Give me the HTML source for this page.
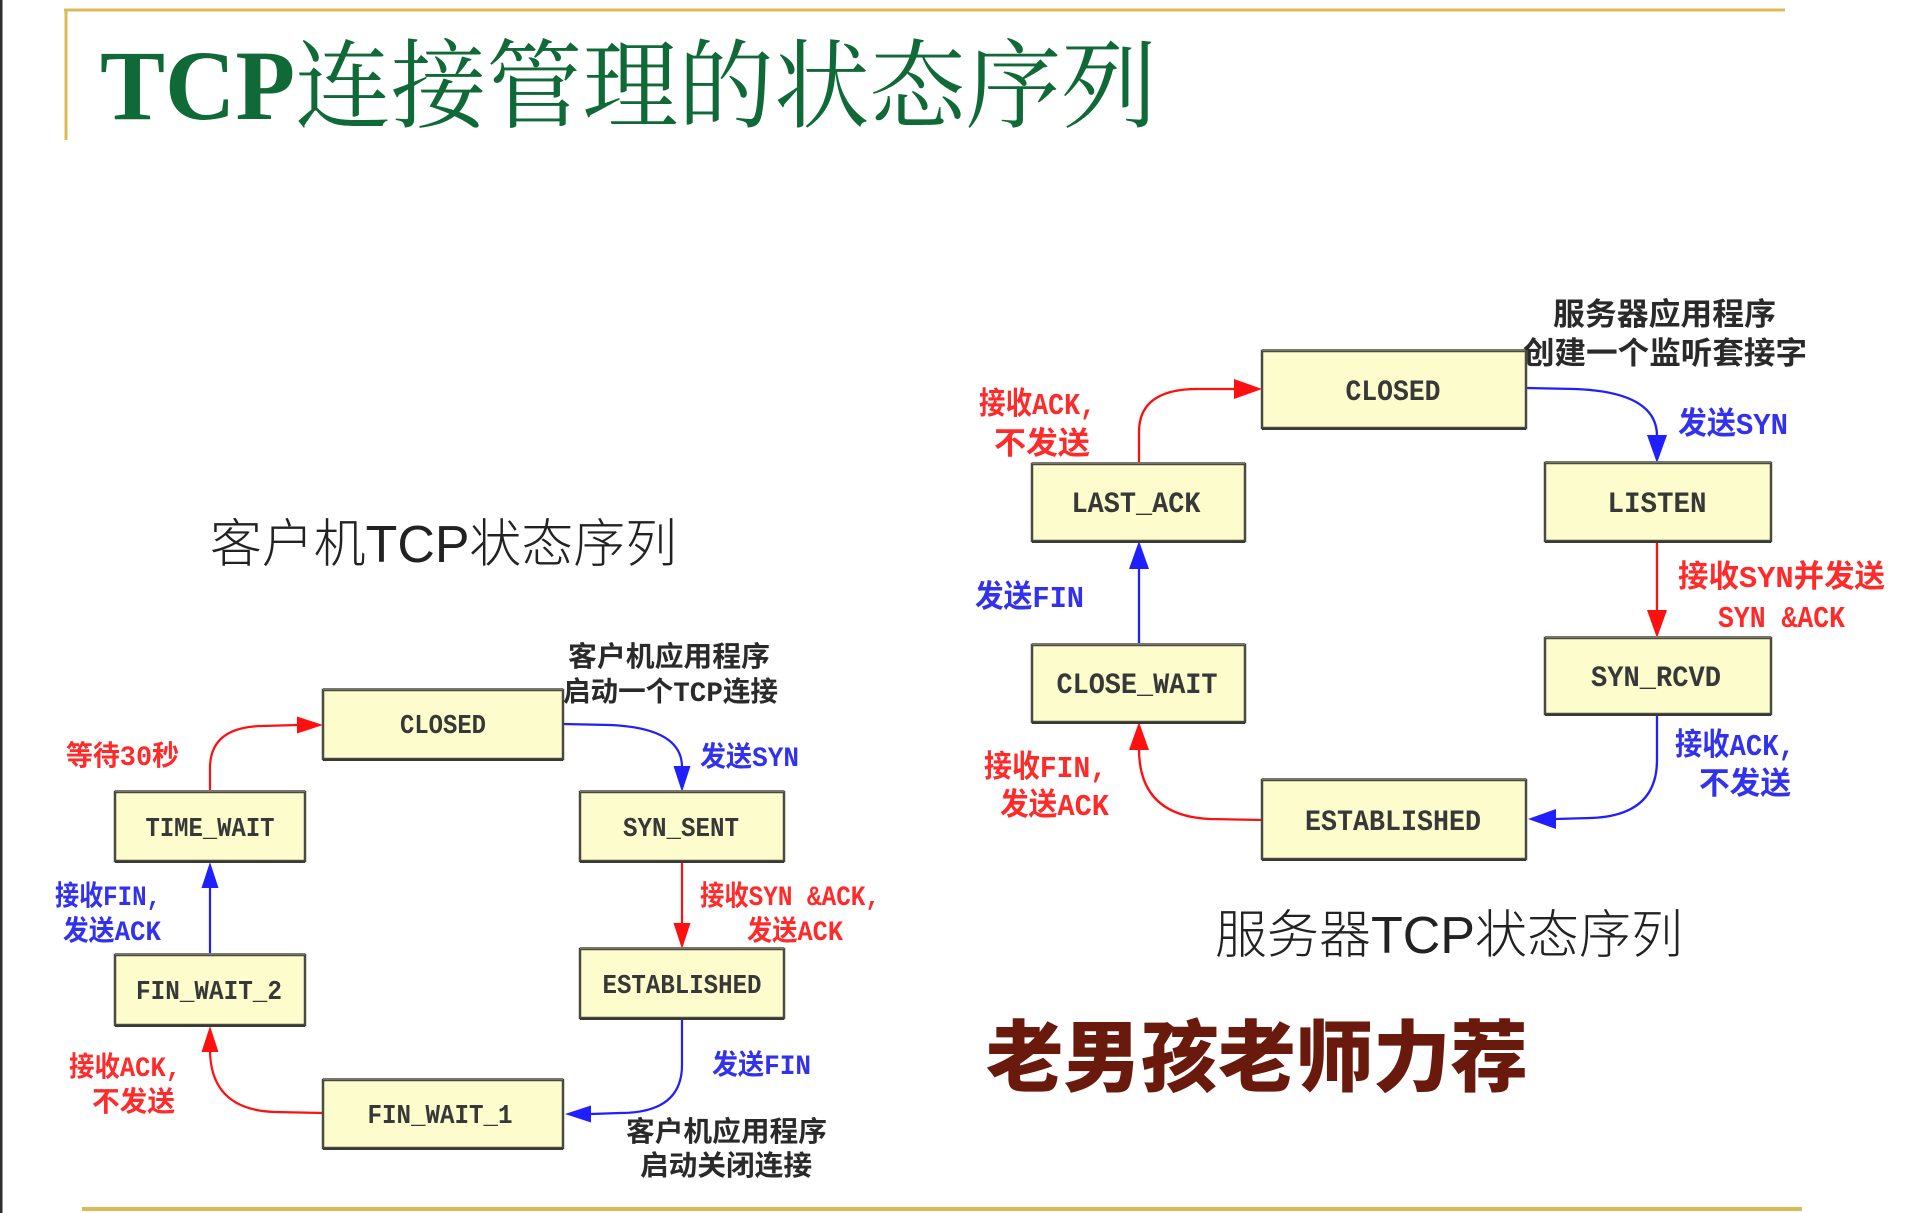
<!DOCTYPE html>
<html>
<head>
<meta charset="utf-8">
<style>
  html, body { margin:0; padding:0; background:#ffffff; }
  body { width:1930px; height:1213px; overflow:hidden; }
  svg { display:block; }
  .box { fill:#fcfccc; stroke:#4a4a42; stroke-width:2.5; }
  .bt { font-family:"Liberation Mono","Noto Sans CJK SC",monospace; font-weight:bold; fill:#383838; text-anchor:middle; }
  .lb { font-family:"Liberation Mono","Noto Sans CJK SC",sans-serif; font-weight:bold; }
  .r { fill:#ff2a2a; }
  .b { fill:#3232ee; }
  .d { fill:#2a2a2a; }
</style>
</head>
<body>
<svg width="1930" height="1213" viewBox="0 0 1930 1213" xmlns="http://www.w3.org/2000/svg">
  <!-- left border -->
  <rect x="0" y="0" width="2.5" height="1213" fill="#2e2e2e"/>

  <!-- gold frame lines -->
  <line x1="64" y1="10" x2="1785" y2="10" stroke="#dcb954" stroke-width="3"/>
  <line x1="66" y1="9" x2="66" y2="140" stroke="#dcb954" stroke-width="3"/>
  <line x1="82" y1="1209" x2="1802" y2="1209" stroke="#dcb954" stroke-width="4"/>

  <!-- title -->
  <text x="100" y="119" font-family="Liberation Serif, serif" font-weight="bold" font-size="100" fill="#0f6a37" textLength="195" lengthAdjust="spacingAndGlyphs">TCP</text>
  <text x="295" y="120" font-family="'Noto Serif CJK SC', 'Liberation Serif', serif" font-size="97" fill="#0f6a37" textLength="862" lengthAdjust="spacingAndGlyphs">连接管理的状态序列</text>

  <!-- subtitles -->
  <text x="210" y="562" font-family="'Liberation Sans','Noto Sans CJK SC',sans-serif" font-weight="300" font-size="52" fill="#222" textLength="467" lengthAdjust="spacingAndGlyphs">客户机TCP状态序列</text>
  <text x="1215" y="953" font-family="'Liberation Sans','Noto Sans CJK SC',sans-serif" font-weight="300" font-size="52" fill="#222" textLength="468" lengthAdjust="spacingAndGlyphs">服务器TCP状态序列</text>
  <text x="986" y="1085" font-family="'Noto Sans CJK SC',sans-serif" font-weight="900" font-size="78" fill="#6a1a0c" textLength="542" lengthAdjust="spacingAndGlyphs">老男孩老师力荐</text>

  <!-- ================= CLIENT ================= -->
  <g fill="none" stroke-width="2.2">
    <path d="M210,792 L210,768 Q210,727 262,726 L298,725" stroke="#ff1010"/>
    <path d="M563,724 L610,725 Q682,728 682,767" stroke="#1f1fff"/>
    <path d="M682,861 L682,924" stroke="#ff1010"/>
    <path d="M682,1018 L682,1065 Q682,1113 620,1113 L591,1114" stroke="#1f1fff"/>
    <path d="M323,1113 L275,1112 Q211,1110 210,1051" stroke="#ff1010"/>
    <path d="M210,955 L210,887" stroke="#1f1fff"/>
  </g>
  <polygon points="323,725 297,716.5 297,733.5" fill="#ff1010"/>
  <polygon points="682,792 673.5,766 690.5,766" fill="#1f1fff"/>
  <polygon points="682,949 673.5,923 690.5,923" fill="#ff1010"/>
  <polygon points="565,1114 591,1105.5 591,1122.5" fill="#1f1fff"/>
  <polygon points="210,1026 201.5,1052 218.5,1052" fill="#ff1010"/>
  <polygon points="210,862 201.5,888 218.5,888" fill="#1f1fff"/>

  <rect class="box" x="323" y="690" width="240" height="69"/>
  <line x1="323" y1="689" x2="563" y2="689" stroke="#77776a" stroke-width="2"/>
  <line x1="323" y1="760" x2="563" y2="760" stroke="#3a3a34" stroke-width="2"/>
  <text class="bt" x="443" y="733" font-size="27" textLength="86" lengthAdjust="spacingAndGlyphs">CLOSED</text>

  <rect class="box" x="580" y="792" width="204" height="69"/>
  <line x1="580" y1="791" x2="784" y2="791" stroke="#77776a" stroke-width="2"/>
  <line x1="580" y1="862" x2="784" y2="862" stroke="#3a3a34" stroke-width="2"/>
  <text class="bt" x="681" y="836" font-size="27" textLength="116" lengthAdjust="spacingAndGlyphs">SYN_SENT</text>

  <rect class="box" x="115" y="792" width="190" height="69"/>
  <line x1="115" y1="791" x2="305" y2="791" stroke="#77776a" stroke-width="2"/>
  <line x1="115" y1="862" x2="305" y2="862" stroke="#3a3a34" stroke-width="2"/>
  <text class="bt" x="210" y="836" font-size="27" textLength="129" lengthAdjust="spacingAndGlyphs">TIME_WAIT</text>

  <rect class="box" x="580" y="949" width="204" height="69"/>
  <line x1="580" y1="948" x2="784" y2="948" stroke="#77776a" stroke-width="2"/>
  <line x1="580" y1="1019" x2="784" y2="1019" stroke="#3a3a34" stroke-width="2"/>
  <text class="bt" x="682" y="993" font-size="27" textLength="159" lengthAdjust="spacingAndGlyphs">ESTABLISHED</text>

  <rect class="box" x="115" y="955" width="190" height="70"/>
  <line x1="115" y1="954" x2="305" y2="954" stroke="#77776a" stroke-width="2"/>
  <line x1="115" y1="1026" x2="305" y2="1026" stroke="#3a3a34" stroke-width="2"/>
  <text class="bt" x="209" y="999" font-size="27" textLength="146" lengthAdjust="spacingAndGlyphs">FIN_WAIT_2</text>

  <rect class="box" x="323" y="1080" width="240" height="68"/>
  <line x1="323" y1="1079" x2="563" y2="1079" stroke="#77776a" stroke-width="2"/>
  <line x1="323" y1="1149" x2="563" y2="1149" stroke="#3a3a34" stroke-width="2"/>
  <text class="bt" x="440" y="1123" font-size="27" textLength="145" lengthAdjust="spacingAndGlyphs">FIN_WAIT_1</text>

  <g class="lb" font-size="28">
    <text class="r" x="66" y="765" textLength="113" lengthAdjust="spacingAndGlyphs">等待30秒</text>
    <text class="b" x="700" y="766" textLength="99" lengthAdjust="spacingAndGlyphs">发送SYN</text>
    <text class="d" x="568" y="666" textLength="202" lengthAdjust="spacingAndGlyphs">客户机应用程序</text>
    <text class="d" x="563" y="701" textLength="215" lengthAdjust="spacingAndGlyphs">启动一个TCP连接</text>
    <text class="r" x="700" y="905" textLength="180" lengthAdjust="spacingAndGlyphs">接收SYN &amp;ACK,</text>
    <text class="r" x="747" y="940" textLength="96" lengthAdjust="spacingAndGlyphs">发送ACK</text>
    <text class="b" x="55" y="905" textLength="106" lengthAdjust="spacingAndGlyphs">接收FIN,</text>
    <text class="b" x="63" y="940" textLength="98" lengthAdjust="spacingAndGlyphs">发送ACK</text>
    <text class="b" x="712" y="1074" textLength="99" lengthAdjust="spacingAndGlyphs">发送FIN</text>
    <text class="d" x="626" y="1141" textLength="201" lengthAdjust="spacingAndGlyphs">客户机应用程序</text>
    <text class="d" x="640" y="1175" textLength="172" lengthAdjust="spacingAndGlyphs">启动关闭连接</text>
    <text class="r" x="69" y="1076" textLength="112" lengthAdjust="spacingAndGlyphs">接收ACK,</text>
    <text class="r" x="92" y="1111" textLength="83" lengthAdjust="spacingAndGlyphs">不发送</text>
  </g>

  <!-- ================= SERVER ================= -->
  <g fill="none" stroke-width="2.3">
    <path d="M1139,464 L1139,432 Q1139,390 1195,389 L1235,389" stroke="#ff1010"/>
    <path d="M1526,388 L1575,389 Q1657,392 1657,436" stroke="#1f1fff"/>
    <path d="M1657,541 L1657,611" stroke="#ff1010"/>
    <path d="M1657,714 L1657,760 Q1657,816 1590,818 L1556,819" stroke="#1f1fff"/>
    <path d="M1262,820 L1210,819 Q1139,816 1139,749" stroke="#ff1010"/>
    <path d="M1139,645 L1139,568" stroke="#1f1fff"/>
  </g>
  <polygon points="1262,389 1234,379 1234,399" fill="#ff1010"/>
  <polygon points="1657,463 1647,435 1667,435" fill="#1f1fff"/>
  <polygon points="1657,638 1647,610 1667,610" fill="#ff1010"/>
  <polygon points="1528,819 1556,809 1556,829" fill="#1f1fff"/>
  <polygon points="1139,722 1129,750 1149,750" fill="#ff1010"/>
  <polygon points="1139,541 1129,569 1149,569" fill="#1f1fff"/>

  <rect class="box" x="1262" y="351" width="264" height="77"/>
  <line x1="1262" y1="350" x2="1526" y2="350" stroke="#77776a" stroke-width="2"/>
  <line x1="1262" y1="429" x2="1526" y2="429" stroke="#3a3a34" stroke-width="2"/>
  <text class="bt" x="1393" y="400" font-size="30" textLength="95" lengthAdjust="spacingAndGlyphs">CLOSED</text>

  <rect class="box" x="1545" y="463" width="226" height="78"/>
  <line x1="1545" y1="462" x2="1771" y2="462" stroke="#77776a" stroke-width="2"/>
  <line x1="1545" y1="542" x2="1771" y2="542" stroke="#3a3a34" stroke-width="2"/>
  <text class="bt" x="1657" y="512" font-size="30" textLength="99" lengthAdjust="spacingAndGlyphs">LISTEN</text>

  <rect class="box" x="1032" y="464" width="213" height="77"/>
  <line x1="1032" y1="463" x2="1245" y2="463" stroke="#77776a" stroke-width="2"/>
  <line x1="1032" y1="542" x2="1245" y2="542" stroke="#3a3a34" stroke-width="2"/>
  <text class="bt" x="1136" y="512" font-size="30" textLength="129" lengthAdjust="spacingAndGlyphs">LAST_ACK</text>

  <rect class="box" x="1032" y="645" width="213" height="77"/>
  <line x1="1032" y1="644" x2="1245" y2="644" stroke="#77776a" stroke-width="2"/>
  <line x1="1032" y1="723" x2="1245" y2="723" stroke="#3a3a34" stroke-width="2"/>
  <text class="bt" x="1137" y="693" font-size="30" textLength="161" lengthAdjust="spacingAndGlyphs">CLOSE_WAIT</text>

  <rect class="box" x="1545" y="638" width="226" height="76"/>
  <line x1="1545" y1="637" x2="1771" y2="637" stroke="#77776a" stroke-width="2"/>
  <line x1="1545" y1="715" x2="1771" y2="715" stroke="#3a3a34" stroke-width="2"/>
  <text class="bt" x="1656" y="686" font-size="30" textLength="130" lengthAdjust="spacingAndGlyphs">SYN_RCVD</text>

  <rect class="box" x="1262" y="780" width="264" height="79"/>
  <line x1="1262" y1="779" x2="1526" y2="779" stroke="#77776a" stroke-width="2"/>
  <line x1="1262" y1="860" x2="1526" y2="860" stroke="#3a3a34" stroke-width="2"/>
  <text class="bt" x="1393" y="830" font-size="30" textLength="176" lengthAdjust="spacingAndGlyphs">ESTABLISHED</text>

  <g class="lb" font-size="31">
    <text class="d" x="1553" y="325" textLength="223" lengthAdjust="spacingAndGlyphs">服务器应用程序</text>
    <text class="d" x="1523" y="364" textLength="284" lengthAdjust="spacingAndGlyphs">创建一个监听套接字</text>
    <text class="r" x="979" y="414" textLength="117" lengthAdjust="spacingAndGlyphs">接收ACK,</text>
    <text class="r" x="994" y="454" textLength="96" lengthAdjust="spacingAndGlyphs">不发送</text>
    <text class="b" x="1678" y="434" textLength="110" lengthAdjust="spacingAndGlyphs">发送SYN</text>
    <text class="r" x="1678" y="587" textLength="207" lengthAdjust="spacingAndGlyphs">接收SYN并发送</text>
    <text class="r" x="1718" y="627" textLength="127" lengthAdjust="spacingAndGlyphs">SYN &amp;ACK</text>
    <text class="b" x="975" y="607" textLength="109" lengthAdjust="spacingAndGlyphs">发送FIN</text>
    <text class="b" x="1675" y="755" textLength="120" lengthAdjust="spacingAndGlyphs">接收ACK,</text>
    <text class="b" x="1699" y="794" textLength="92" lengthAdjust="spacingAndGlyphs">不发送</text>
    <text class="r" x="984" y="777" textLength="123" lengthAdjust="spacingAndGlyphs">接收FIN,</text>
    <text class="r" x="1000" y="815" textLength="109" lengthAdjust="spacingAndGlyphs">发送ACK</text>
  </g>
</svg>
</body>
</html>
